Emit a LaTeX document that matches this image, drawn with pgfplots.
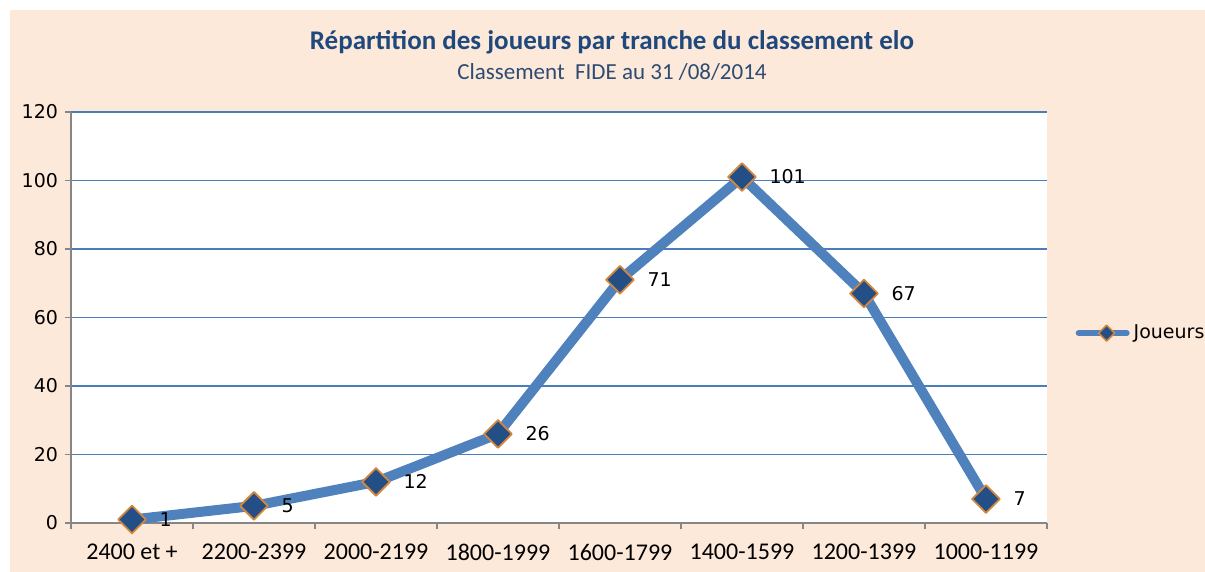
\documentclass[border=0pt]{standalone}
\usepackage{pgfplots}
\pgfplotsset{compat=1.18}
\usepackage{fontspec}
\setmainfont{Carlito}
\newfontfamily\verd{DejaVu Sans}
\definecolor{peach}{RGB}{253,233,218}
\definecolor{linec}{RGB}{79,129,189}
\definecolor{gridc}{RGB}{74,126,187}
\definecolor{markf}{RGB}{36,78,134}
\definecolor{marke}{RGB}{210,135,60}
\definecolor{titlec}{RGB}{31,73,125}
\definecolor{subc}{RGB}{45,75,115}
\definecolor{axisc}{RGB}{134,134,134}
\begin{document}
\begin{tikzpicture}[x=1pt,y=1pt]
\useasboundingbox (0,0) rectangle (602.5,286);
\fill[white] (0,0) rectangle (602.5,286);
\fill[peach] (5,0) rectangle (602.5,281);
\node[font=\fontsize{13.5}{15}\selectfont\bfseries, text=titlec] at (306,265) {Répartition des joueurs par tranche du classement elo};
\node[font=\fontsize{11.5}{13}\selectfont, text=subc] at (306,250) {Classement\ \ FIDE au 31 /08/2014};
\begin{axis}[
  at={(35.5pt,24.5pt)}, anchor=south west,
  scale only axis, width=488pt, height=205.5pt,
  axis background/.style={fill=white},
  xmin=-0.5, xmax=7.5, ymin=0, ymax=120,
  ytick={0,20,...,120},
  xtick={0,...,7},
  xticklabels={2400 et +,2200-2399,2000-2199,1800-1999,1600-1799,1400-1599,1200-1399,1000-1199},
  minor xtick={-0.5,0.5,...,7.5},
  major x tick style={draw=none},
  axis lines*=left,
  axis line style={axisc, line width=0.8pt},
  tick style={axisc, line width=0.8pt},
  tick align=outside,
  major tick length=3pt, minor tick length=3pt,
  ymajorgrids, grid style={gridc, line width=0.6pt},
  /pgf/number format/assume math mode=true,
  yticklabel style={font=\verd\fontsize{9.5}{11}\selectfont},
  xticklabel style={font=\fontsize{12}{14}\selectfont, yshift=-4pt},
  clip=false,
  legend style={at={(1.029,0.462)}, anchor=west, draw=none, fill=none, font=\verd\fontsize{9.5}{11}\selectfont, inner sep=0pt},
  legend image code/.code={
    \draw[line width=3pt, linec, line cap=round] (0pt,0pt) -- (24pt,0pt);
    \draw[fill=markf, draw=marke, line width=0.8pt] (14pt,4pt) -- (18pt,0pt) -- (14pt,-4pt) -- (10pt,0pt) -- cycle;
  },
]
\addplot[linec, line width=5pt, line join=round,
  mark=square*, mark size=4.9pt,
  mark options={fill=markf, draw=marke, line width=0.9pt, rotate=45},
  nodes near coords,
  nodes near coords style={anchor=west, xshift=10pt, text=black, font=\verd\fontsize{9.5}{11}\selectfont},
] coordinates {(0,1) (1,5) (2,12) (3,26) (4,71) (5,101) (6,67) (7,7)};
\addlegendentry{Joueurs}
\end{axis}
\end{tikzpicture}
\end{document}
